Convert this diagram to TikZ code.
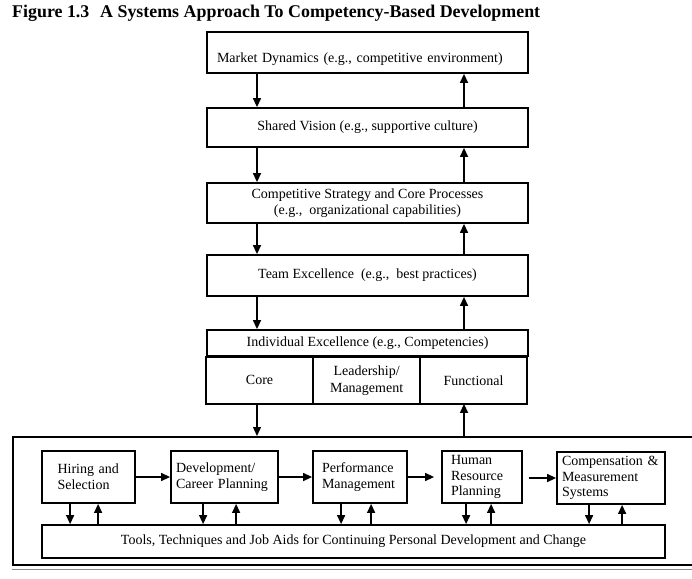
\documentclass[tikz,border=0pt]{standalone}
\usepackage{fontspec}
\setmainfont{Liberation Serif}
\usetikzlibrary{positioning,arrows.meta}
\definecolor{ink}{RGB}{0,0,0}
\definecolor{rulegray}{RGB}{140,140,140}
\newcommand{\boxfont}{\fontsize{14}{16.5}\selectfont}
\newcommand{\cellfont}{\fontsize{14}{15.8}\selectfont}
\tikzset{
  box/.style={draw=ink, line width=1.8pt, minimum width=321pt, align=center,
    inner sep=0pt, font=\boxfont, text=ink},
  cell/.style={draw=ink, line width=1.8pt, minimum width=107pt, minimum height=47pt,
    align=center, inner sep=0pt, outer sep=0pt, font=\boxfont, text=ink},
  tbox/.style={draw=ink, line width=1.8pt, minimum height=52pt, align=left,
    inner ysep=0pt, font=\cellfont, text=ink},
  frm/.style={draw=ink, line width=2pt, inner sep=0pt},
  flow/.style={-{Triangle[length=9pt,width=8pt]}, line width=1.3pt, draw=ink},
  ttl/.style={font=\fontsize{17.9}{20}\selectfont\bfseries, text=ink, inner sep=0pt},
}

\begin{document}
\begin{tikzpicture}[x=1pt, y=-1pt]
  \useasboundingbox (0,0) rectangle (692,578);
  \node[ttl, anchor=base west] (title) at (12,18)
    {Figure 1.3\hspace{0.6em}A Systems Approach To Competency-Based Development};

  % stack of levels
  \node[box, text height=31pt, text depth=10pt, align=left, text width=301pt, inner xsep=10pt]
    (mkt) at (367.5,52.5) {Market Dynamics (e.g., competitive environment)};
  \node[box, minimum height=39pt] (vis) at (367.5,127.5)
    {Shared Vision (e.g., supportive culture)};
  \node[box, minimum height=40pt] (strat) at (367.5,203)
    {Competitive Strategy and Core Processes\\(e.g.,\ \ organizational capabilities)};
  \node[box, minimum height=41pt] (team) at (367.5,275.5)
    {Team Excellence\ \ (e.g.,\ \ best practices)};
  \node[box, minimum height=26pt] (indiv) at (367.5,343)
    {Individual Excellence (e.g., Competencies)};
  \node[cell, below right=0pt and 0pt of indiv.south west] (core) {Core};
  \node[cell, right=0pt of core] (lead) {Leadership/\\Management};
  \node[cell, right=0pt of lead] (func) {Functional};

  % outer frame and tools
  \node[frm, minimum width=707pt, minimum height=128pt] (frame) at (366.5,501) {};
  \node[tbox, text width=62pt, inner xsep=15.5pt] (hire) at (88.5,477) {Hiring and\\Selection};
  \node[tbox, text width=97pt, inner xsep=5pt] (dev) at (224.5,477) {Development/\\Career Planning};
  \node[tbox, text width=76pt, inner xsep=9pt] (perf) at (360,477) {Performance\\Management};
  \node[tbox, text width=62pt, inner xsep=9pt] (hrp) at (482,477) {Human\\Resource\\Planning};
  \node[tbox, text width=98pt, inner xsep=5pt] (comp) at (611,478) {Compensation \&\\Measurement\\Systems};
  \node[draw=ink, line width=1.8pt, minimum width=623pt, minimum height=33pt, inner sep=0pt,
    font=\boxfont, text=ink] (tools) at (353.5,541.5)
    {Tools, Techniques and Job Aids for Continuing Personal Development and Change};
  \draw[rulegray, line width=1.4pt] (12,569.5) -- (692,569.5);

  \coordinate (dcol) at (257,0);
  \coordinate (ucol) at (464,0);
  \foreach \a/\b in {mkt/vis, vis/strat, strat/team, team/indiv} {
    \draw[flow] (\a.south -| dcol) -- (\b.north -| dcol);
    \draw[flow] (\b.north -| ucol) -- (\a.south -| ucol);
  }
  \draw[flow] (core.south -| dcol) -- (frame.north -| dcol);
  \draw[flow] (frame.north -| ucol) -- (func.south -| ucol);

  \draw[flow] (hire) -- (dev);
  \draw[flow] (dev) -- (perf);
  \draw[flow, shorten >=7pt] (perf) -- (hrp);
  \draw[flow, shorten <=6pt] (hrp.east |- comp.west) -- (comp.west);
  \foreach \n/\d/\u in {hire/29/57, dev/33/66, perf/29/59, hrp/25/50, comp/33/66} {
    \draw[flow] ([xshift=\d pt]\n.south west) -- ([xshift=\d pt]\n.south west |- tools.north);
    \draw[flow] ([xshift=\u pt]\n.south west |- tools.north) -- ([xshift=\u pt]\n.south west);
  }
\end{tikzpicture}
\end{document}
